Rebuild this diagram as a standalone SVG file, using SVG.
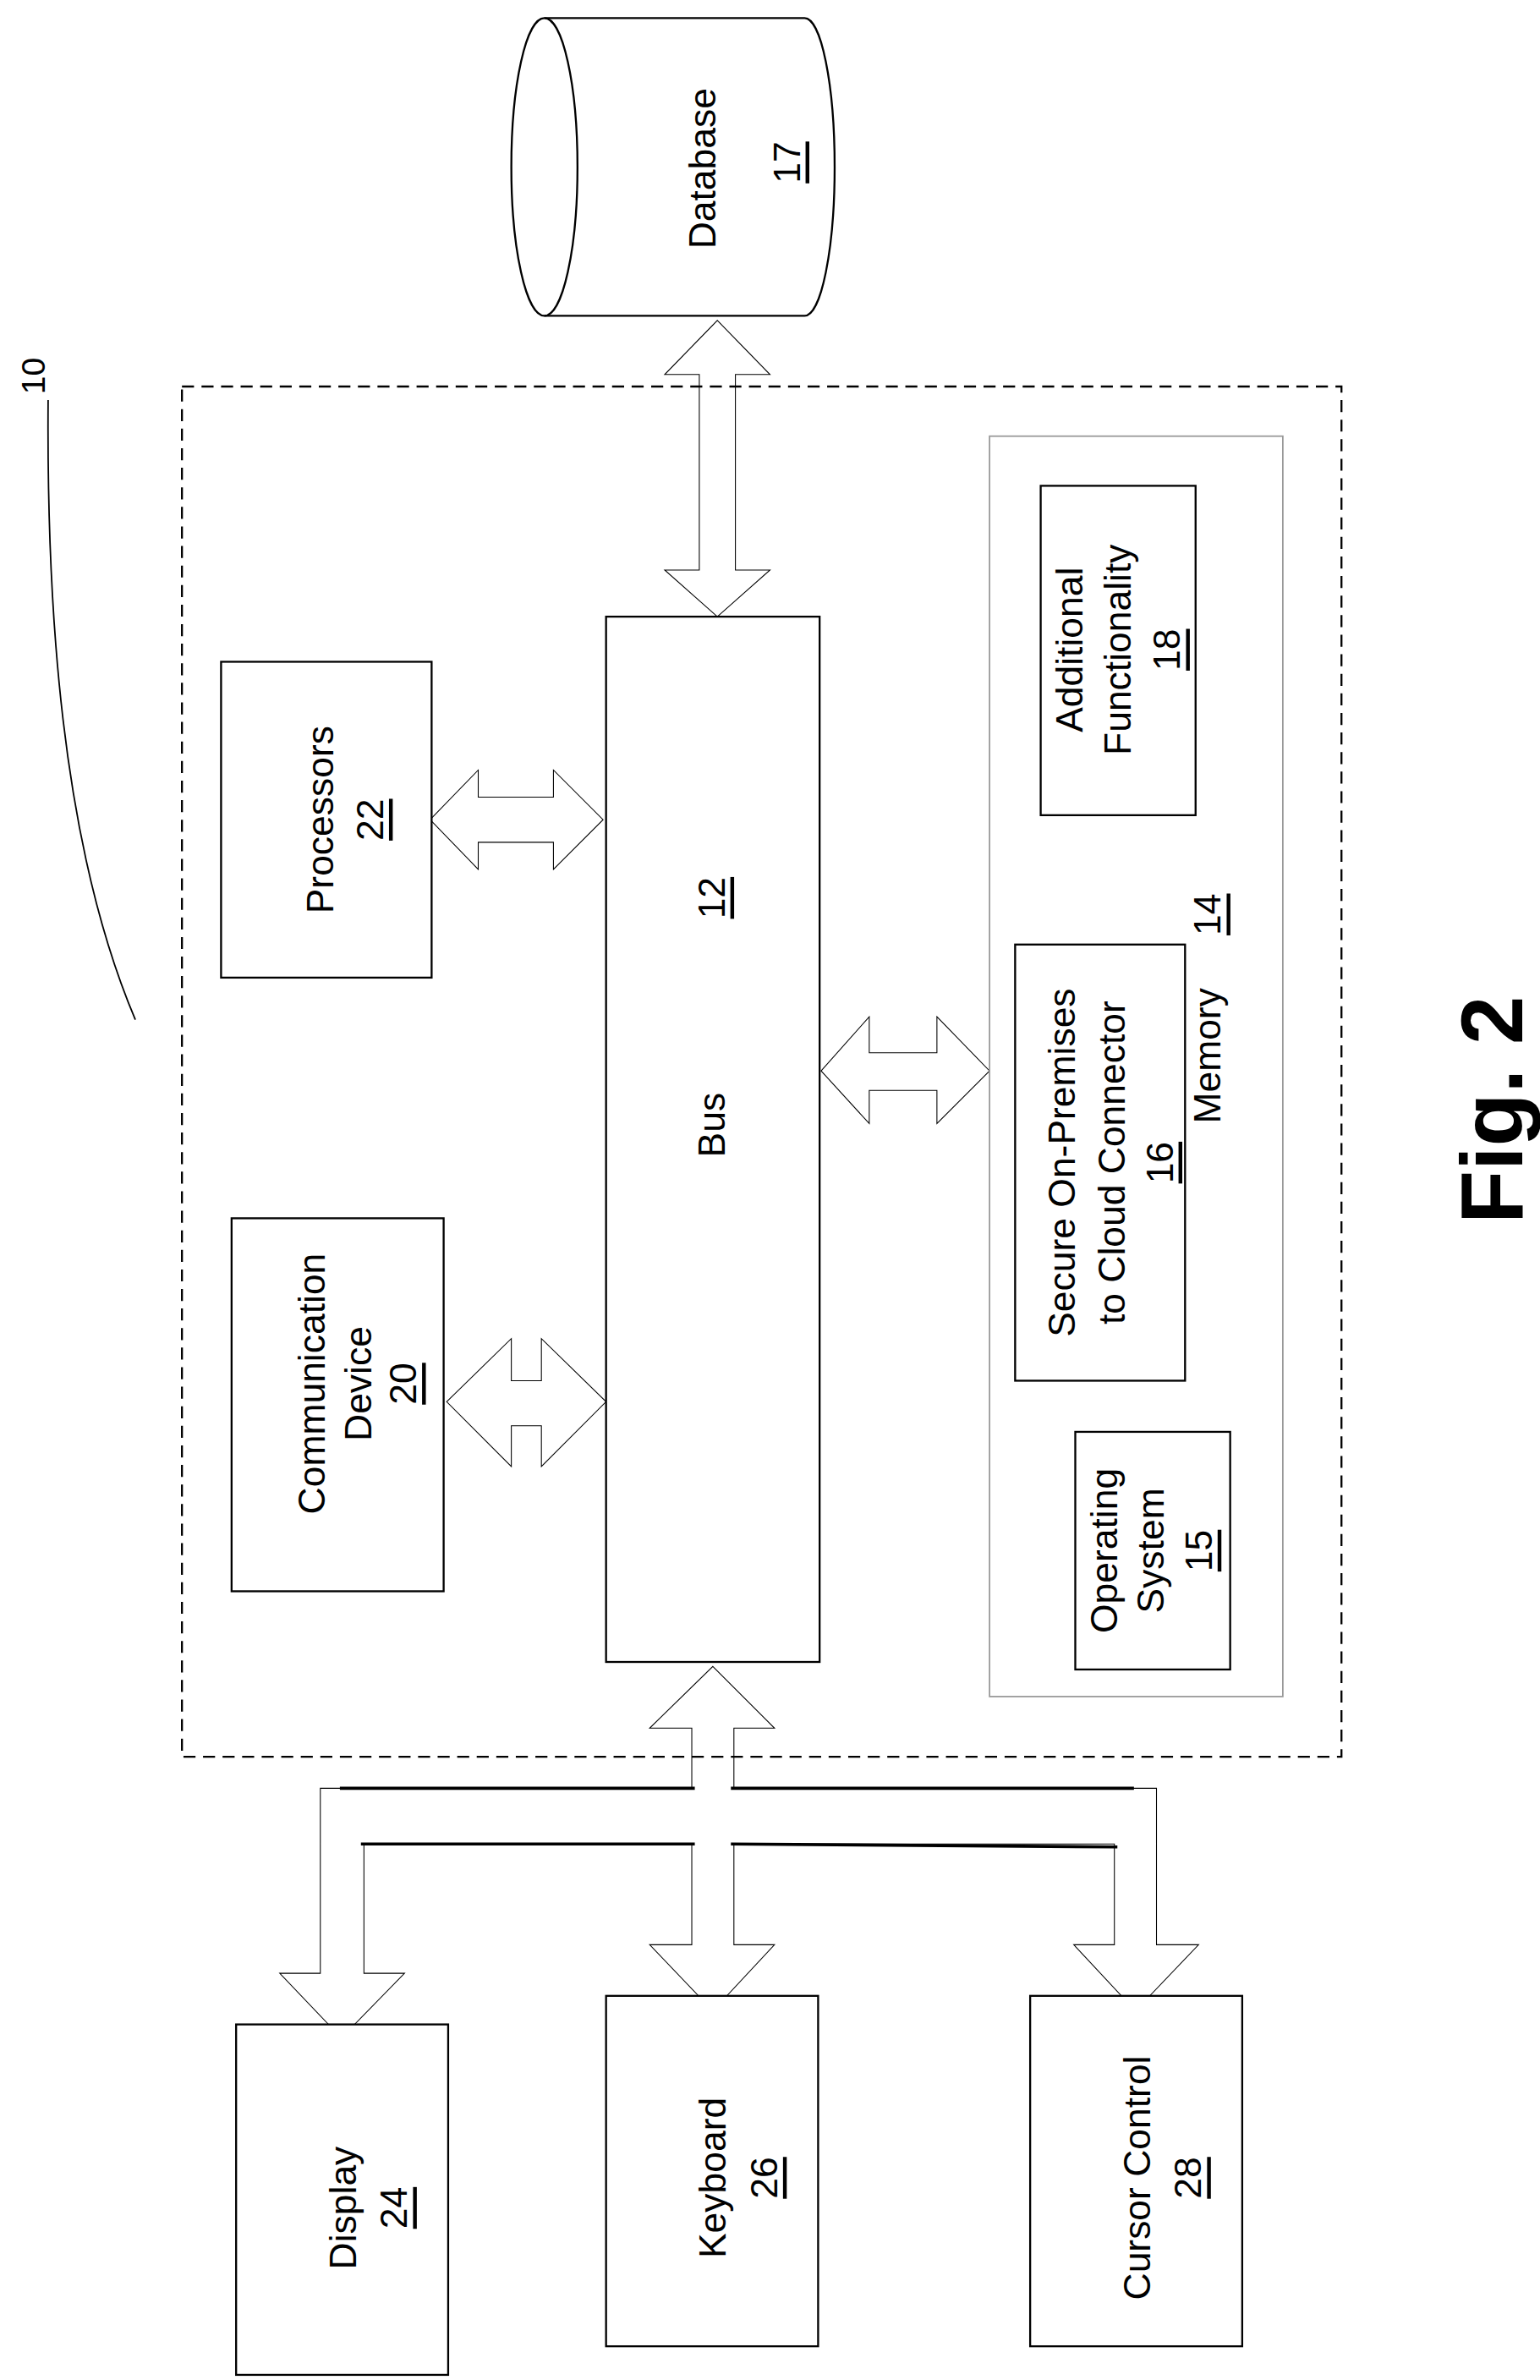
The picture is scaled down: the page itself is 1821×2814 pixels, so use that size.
<svg xmlns="http://www.w3.org/2000/svg" width="1821" height="2814" viewBox="0 0 1821 2814">
<style>
.b{fill:#fff;stroke:#000;stroke-width:1.3}
.g{fill:none;stroke:#999;stroke-width:1}
.a{fill:#fff;stroke:#000;stroke-width:0.6}
.t{font-family:"Liberation Sans",Arial,sans-serif;font-size:25px;fill:#000;text-anchor:middle;dominant-baseline:central}
.u{text-decoration:underline}
</style>
<rect width="1821" height="2814" fill="#fff"/>
<g transform="scale(1.7783)">
<g id="connectors">
<polygon class="a" points="477,213 512,249 489,249 489,379 512,379 477,410 442,379 465,379 465,249 442,249"/>
<polygon class="a" points="286,545 318,512 318,530 368,530 368,512 401,545 368,578 368,560 318,560 318,578"/>
<polygon class="a" points="297,932 340,890 340,918 360,918 360,890 403,932 360,975 360,948 340,948 340,975"/>
<polygon class="a" points="546,712 578,676 578,700 623,700 623,676 658,712 623,747 623,725 578,725 578,747"/>
<polygon class="a" points="474,1108 515,1149 488,1149 488,1189 769,1189 769,1293 797,1293 755,1337 714,1293 741,1293 741,1226 488,1226 488,1293 515,1293 474,1337 432,1293 460,1293 460,1226 242,1226 242,1312 269,1312 227,1355 186,1312 213,1312 213,1189 460,1189 460,1149 432,1149"/>
<g stroke="#000" stroke-width="2">
<line x1="226" y1="1189" x2="462" y2="1189"/>
<line x1="486" y1="1189" x2="754" y2="1189"/>
<line x1="240" y1="1226" x2="462" y2="1226"/>
<line x1="486" y1="1226" x2="743" y2="1228"/>
</g>
<path d="M32,266 C31,400 40,560 90,678" fill="none" stroke="#000" stroke-width="1"/>
</g>
<g id="label10"><text class="t" transform="translate(22,250) rotate(-90)" style="font-size:22px">10</text></g>
<g id="system"><rect x="121" y="257" width="771" height="911" fill="none" stroke="#000" stroke-width="1.3" stroke-dasharray="8,5"/></g>
<g id="database">
<path class="b" d="M362,12 L535,12 A20,99 0 0 1 535,210 L362,210 A22,99 0 0 1 362,12 Z"/>
<path d="M362,12 A22,99 0 0 1 362,210" fill="none" stroke="#000" stroke-width="1.3"/>
<text class="t" transform="translate(467,112) rotate(-90)">Database</text>
<text class="t u" transform="translate(523,108) rotate(-90)">17</text>
</g>
<g id="bus">
<rect class="b" x="403" y="410" width="142" height="695"/>
<text class="t u" transform="translate(473,597) rotate(-90)">12</text>
<text class="t" transform="translate(473,748) rotate(-90)">Bus</text>
</g>
<g id="processors">
<rect class="b" x="147" y="440" width="140" height="210"/>
<text class="t" transform="translate(213,545) rotate(-90)">Processors</text>
<text class="t u" transform="translate(246,545) rotate(-90)">22</text>
</g>
<g id="communication">
<rect class="b" x="154" y="810" width="141" height="248"/>
<text class="t" transform="translate(207,920) rotate(-90)">Communication</text>
<text class="t" transform="translate(238,920) rotate(-90)">Device</text>
<text class="t u" transform="translate(268,920) rotate(-90)">20</text>
</g>
<g id="memory">
<rect class="g" x="658" y="290" width="195" height="838"/>
<text class="t" transform="translate(803,702) rotate(-90)">Memory</text>
<text class="t u" transform="translate(803,608) rotate(-90)">14</text>
</g>
<g id="additional">
<rect class="b" x="692" y="323" width="103" height="219"/>
<text class="t" transform="translate(711,432) rotate(-90)">Additional</text>
<text class="t" transform="translate(743,432) rotate(-90)">Functionality</text>
<text class="t u" transform="translate(776,432) rotate(-90)">18</text>
</g>
<g id="connector16">
<rect class="b" x="675" y="628" width="113" height="290"/>
<text class="t" transform="translate(706,773) rotate(-90)">Secure On-Premises</text>
<text class="t" transform="translate(739,773) rotate(-90)">to Cloud Connector</text>
<text class="t u" transform="translate(771,773) rotate(-90)">16</text>
</g>
<g id="os">
<rect class="b" x="715" y="952" width="103" height="158"/>
<text class="t" transform="translate(734,1031) rotate(-90)">Operating</text>
<text class="t" transform="translate(765,1031) rotate(-90)">System</text>
<text class="t u" transform="translate(797,1031) rotate(-90)">15</text>
</g>
<g id="display">
<rect class="b" x="157" y="1346" width="141" height="233"/>
<text class="t" transform="translate(228,1468) rotate(-90)">Display</text>
<text class="t u" transform="translate(262,1468) rotate(-90)">24</text>
</g>
<g id="keyboard">
<rect class="b" x="403" y="1327" width="141" height="233"/>
<text class="t" transform="translate(474,1448) rotate(-90)">Keyboard</text>
<text class="t u" transform="translate(508,1448) rotate(-90)">26</text>
</g>
<g id="cursor">
<rect class="b" x="685" y="1327" width="141" height="233"/>
<text class="t" transform="translate(756,1448) rotate(-90)">Cursor Control</text>
<text class="t u" transform="translate(790,1448) rotate(-90)">28</text>
</g>
<g id="fig"><text class="t" transform="translate(992,738) rotate(-90)" style="font-size:58px;font-weight:bold">Fig. 2</text></g>
</g>
</svg>
